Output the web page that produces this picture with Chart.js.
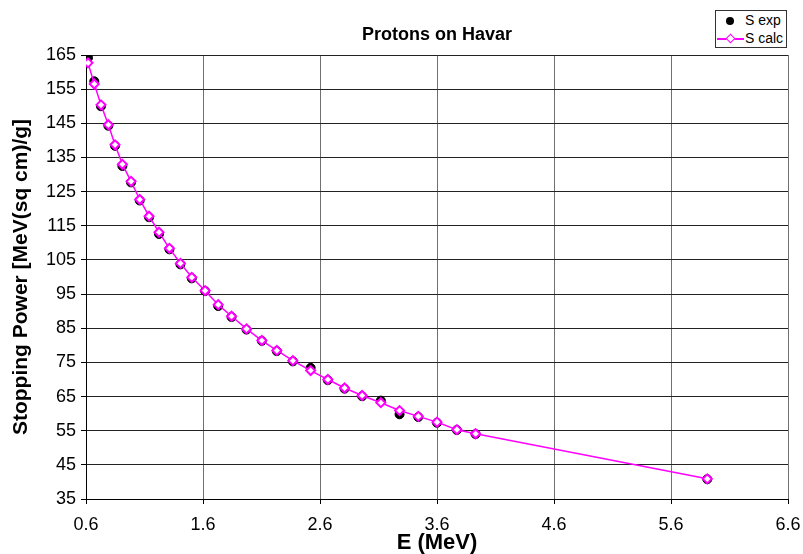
<!DOCTYPE html>
<html>
<head>
<meta charset="utf-8">
<script src="https://cdn.jsdelivr.net/npm/chart.js@4.4.0/dist/chart.umd.min.js"></script>
<style>
html,body{margin:0;padding:0;background:#fff;}
#wrap{position:relative;width:803px;height:554px;}
#legend{position:absolute;left:715px;top:10px;width:70px;height:36px;border:1px solid #333;background:#fff;font:14px 'Liberation Sans',Arial,sans-serif;color:#000;}
#legend .txt{position:absolute;left:29px;line-height:15px;white-space:nowrap;}
#legend .dot{position:absolute;left:10px;top:6px;width:8px;height:8px;border-radius:50%;background:#000;}
#legend .ln{position:absolute;left:1px;top:27px;width:27px;height:1.5px;background:#ff00ff;}
#legend .dia{position:absolute;left:11px;top:24px;width:5px;height:5px;border:1.5px solid #ff00ff;background:#fff;transform:rotate(45deg);}
</style>
</head>
<body>
<div id="wrap">
  <canvas id="chart" width="803" height="554"></canvas>
  <div id="legend">
    <div class="dot"></div><div class="txt" style="top:2px">S exp</div>
    <div class="ln"></div><div class="dia"></div><div class="txt" style="top:20px">S calc</div>
  </div>
</div>
<script>
// proton energy (MeV) and stopping power
const energy = [0.617, 0.671, 0.728, 0.791, 0.848, 0.911, 0.985, 1.059, 1.139, 1.224, 1.313, 1.407, 1.504, 1.618, 1.73, 1.844, 1.972, 2.103, 2.231, 2.368, 2.52, 2.667, 2.81, 2.96, 3.12, 3.28, 3.44, 3.60, 3.77, 3.93, 5.91];
const sExp  = [164.2, 157.3, 150.0, 144.3, 138.4, 132.5, 127.7, 122.4, 117.5, 112.6, 108.1, 103.7, 99.6, 95.9, 91.5, 88.3, 84.6, 81.3, 78.3, 75.3, 73.4, 69.8, 67.3, 65.1, 63.8, 59.8, 59.0, 57.3, 55.2, 54.0, 40.8];
const sCalc = [162.7, 156.5, 150.4, 144.6, 138.7, 133.0, 128.0, 122.7, 117.8, 113.1, 108.4, 104.0, 99.9, 96.0, 91.9, 88.5, 84.8, 81.4, 78.5, 75.5, 72.6, 70.0, 67.5, 65.3, 63.2, 60.9, 59.2, 57.5, 55.3, 54.1, 40.9];
const xTicks = [0.6, 1.6, 2.6, 3.6, 4.6, 5.6, 6.6];
const yTicks = [35, 45, 55, 65, 75, 85, 95, 105, 115, 125, 135, 145, 155, 165];

const fam = "'Liberation Sans', Arial, sans-serif";

function pts(ys){
	return energy.map(function(e,i){ return {x:e, y:ys[i]}; });
}

new Chart(document.getElementById('chart'), {
	type: 'scatter',
	data: {
		datasets: [
			{
				label: 'S exp',
				data: pts(sExp),
				order: 2,
				showLine: false,
				pointStyle: 'circle',
				pointRadius: 4.5,
				backgroundColor: '#000',
				borderColor: '#000',
				borderWidth: 1
			},
			{
				label: 'S calc',
				data: pts(sCalc),
				order: 1,
				showLine: true,
				tension: 0,
				borderColor: '#ff00ff',
				borderWidth: 1.5,
				pointStyle: 'rectRot',
				pointRadius: 4.5,
				pointBackgroundColor: '#fff',
				pointBorderColor: '#ff00ff',
				pointBorderWidth: 2
			}
		]
	},
	options: {
		responsive: false,
		animation: false,
		layout: {padding: {left: 0, right: 0, top: 0, bottom: 0}},
		plugins: {
			legend: {display: false},
			tooltip: {enabled: false},
			title: {
				display: true,
				text: 'Protons on Havar',
				fullSize: false,
				color: '#000',
				font: {family: fam, size: 18, weight: 'bold'},
				padding: {top: 24, bottom: 9.4}
			}
		},
		scales: {
			x: {
				type: 'linear',
				min: 0.6, max: 6.6,
				afterBuildTicks: function(s){ s.ticks = xTicks.map(function(v){ return {value:v}; }); },
				afterFit: function(s){ s.height = 55; s.paddingRight = 15; s.paddingLeft = 0; },
				ticks: {color: '#000', font: {family: fam, size: 18}, padding: 10, maxRotation: 0, autoSkip: false,
					callback: function(v){ return v.toFixed(1); }},
				grid: {color: '#707070', tickColor: '#000', tickLength: 5, lineWidth: 1},
				border: {color: '#000', width: 1},
				title: {display: true, text: 'E (MeV)', color: '#000', font: {family: fam, size: 22, weight: 'bold'}, padding: {top: 0, bottom: -2}}
			},
			y: {
				type: 'linear',
				min: 35, max: 165,
				afterBuildTicks: function(s){ s.ticks = yTicks.map(function(v){ return {value:v}; }); },
				afterFit: function(s){ s.width = 86; },
				ticks: {color: '#000', font: {family: fam, size: 18}, padding: 5, autoSkip: false,
					callback: function(v){ return String(v); }},
				grid: {color: '#222', tickColor: '#000', tickLength: 5, lineWidth: 1},
				border: {color: '#000', width: 1},
				title: {display: true, text: 'Stopping Power [MeV(sq cm)/g]', color: '#000', font: {family: fam, size: 21, weight: 'bold'}, padding: {top: 9, bottom: 0}}
			}
		}
	}
});
</script>
</body>
</html>
